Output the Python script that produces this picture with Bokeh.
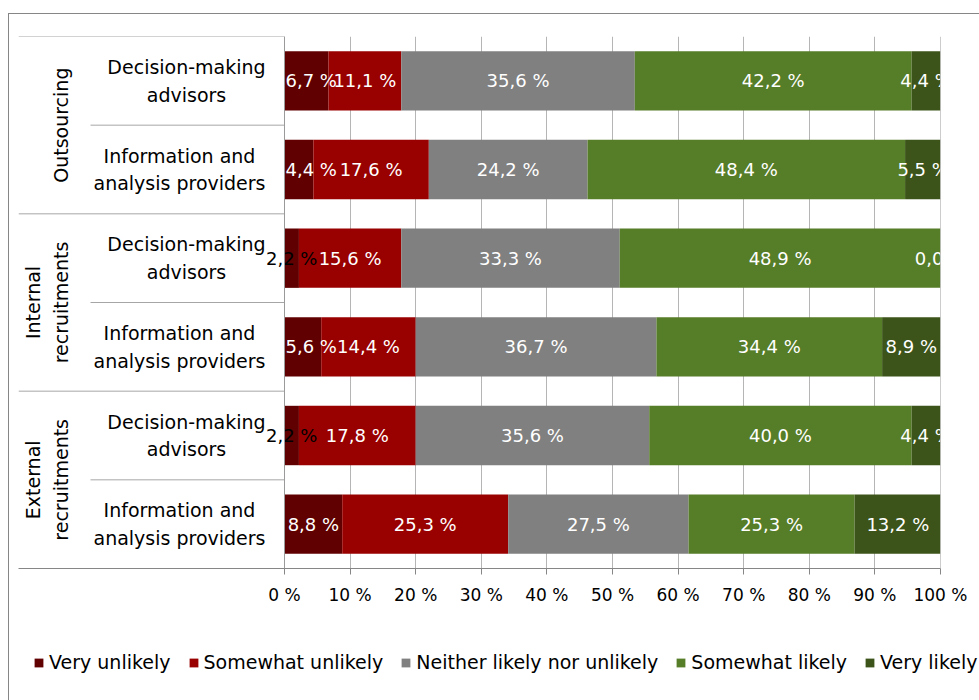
import math
from bokeh.plotting import figure
from bokeh.layouts import column
from bokeh.models import (FactorRange, Range1d, FixedTicker, PrintfTickFormatter,
                          Span, Legend, LegendItem, ColumnDataSource, InlineStyleSheet)
from bokeh.core.properties import value
from bokeh.embed import file_html
from bokeh.resources import INLINE

# ---------------- data ----------------
groups = ["Outsourcing", "Internal recruitments", "External recruitments"]
group_labels = ["Outsourcing", "Internal\nrecruitments", "External\nrecruitments"]
subcats = ["Decision-making advisors", "Information and analysis providers"]
subcat_labels = ["Decision-making\nadvisors", "Information and\nanalysis providers"]
series = ["Very unlikely", "Somewhat unlikely", "Neither likely nor unlikely",
          "Somewhat likely", "Very likely"]
colors = ["#600000", "#990000", "#808080", "#567D27", "#3C5419"]

# rows, top to bottom: Outsourcing/DM, Outsourcing/Info, Internal/DM, Internal/Info, External/DM, External/Info
very_unlikely = [6.7, 4.4, 2.2, 5.6, 2.2, 8.8]
somewhat_unlikely = [11.1, 17.6, 15.6, 14.4, 17.8, 25.3]
neither = [35.6, 24.2, 33.3, 36.7, 35.6, 27.5]
somewhat_likely = [42.2, 48.4, 48.9, 34.4, 40.0, 25.3]
very_likely = [4.4, 5.5, 0.0, 8.9, 4.4, 13.2]

x_ticks = [0, 10, 20, 30, 40, 50, 60, 70, 80, 90, 100]

# ---------------- layout constants ----------------
W, H = 979, 700
MAIN_H = 636
FRAME_L, FRAME_R, FRAME_T, FRAME_B = 18, 940, 36, 568
ZERO_PX = 284
PX_PER_UNIT = (FRAME_R - ZERO_PX) / 100.0
x_start = (FRAME_L - ZERO_PX) / PX_PER_UNIT
FONT = "DejaVu Sans"


def px_to_x(px):
    return (px - ZERO_PX) / PX_PER_UNIT


rows = [(g, s) for g in groups for s in subcats]
factors = rows[::-1]
cols = [very_unlikely, somewhat_unlikely, neither, somewhat_likely, very_likely]
src = ColumnDataSource(dict(row=rows, **{s: c for s, c in zip(series, cols)}))

p = figure(width=W, height=MAIN_H, output_backend="svg", toolbar_location=None,
           x_range=Range1d(x_start, 100),
           y_range=FactorRange(*factors, group_padding=0, subgroup_padding=0,
                               factor_padding=0, range_padding=0),
           y_axis_location=None,
           min_border_left=FRAME_L, min_border_right=W - FRAME_R,
           min_border_top=FRAME_T, min_border_bottom=MAIN_H - FRAME_B)
p.outline_line_color = None
p.background_fill_color = "white"
p.border_fill_color = "white"

# grid
p.xgrid.ticker = FixedTicker(ticks=x_ticks)
p.xgrid.grid_line_color = "#B5B5B5"
p.ygrid.grid_line_color = None

# x axis
ax = p.xaxis[0]
ax.ticker = FixedTicker(ticks=x_ticks)
ax.formatter = PrintfTickFormatter(format="%d %%")
ax.axis_line_color = "#868686"
ax.major_tick_line_color = "#868686"
ax.major_tick_out = 6
ax.major_tick_in = 0
ax.minor_tick_line_color = None
ax.major_label_text_font = FONT
ax.major_label_text_font_size = "17px"
ax.major_label_text_color = "#000000"
ax.major_label_standoff = 10

# stacked bars
bars = p.hbar_stack(series, y="row", height=0.67, color=colors, line_color=None, source=src)

# value labels
HALF_LABEL_PX = 27
cx, cy, ct, cc = [], [], [], []   # centred labels
lx, ly, lt = [], [], []           # labels kept inside the plot area on the left
for i, r in enumerate(rows):
    cum = 0.0
    for k, c in enumerate(cols):
        v = c[i]
        txt = ("%.1f" % v).replace(".", ",") + " %"
        dark = 0 < v < 3
        centre = cum + v / 2.0
        if k == 0 and not dark and centre * PX_PER_UNIT < HALF_LABEL_PX:
            lx.append(cum)
            ly.append(r)
            lt.append(txt)
        else:
            cx.append(centre)
            cy.append(r)
            ct.append(txt)
            cc.append("#000000" if dark else "#FFFFFF")
        cum += v
p.text(x=cx, y=cy, text=ct, text_color=cc, text_align="center", text_baseline="middle",
       text_font=value(FONT), text_font_size="18px")
p.text(x=lx, y=ly, text=lt, text_color="#FFFFFF", text_align="left", text_baseline="middle",
       x_offset=1, text_font=value(FONT), text_font_size="18px")

# boundary lines at 0 and 100
p.add_layout(Span(location=0, dimension="height", line_color="#9A9A9A", line_width=1))
p.add_layout(Span(location=100, dimension="height", line_color="#9A9A9A", line_width=1))

# category table lines
seg_x0, seg_y = [], []
for g in groups:
    seg_x0.append(x_start)
    seg_y.append((g, subcats[0], 0.5))
    seg_x0.append(px_to_x(90))
    seg_y.append((g, subcats[1], 0.5))
p.segment(x0=seg_x0, y0=seg_y, x1=[0] * len(seg_x0), y1=seg_y,
          line_color="#A6A6A6", line_width=1)

# sub-category labels
sub_center_px = [186, 179]
p.text(x=[px_to_x(sub_center_px[subcats.index(s)]) for (g, s) in rows], y=rows,
       text=[subcat_labels[subcats.index(s)] for (g, s) in rows],
       text_align="center", text_baseline="middle", text_line_height=1.25,
       text_color="#000000", text_font=value(FONT), text_font_size="19px")

# group labels (rotated)
p.text(x=[px_to_x(71)] * len(groups), y=groups, text=group_labels, angle=math.pi / 2,
       text_align="center", text_baseline="bottom", text_line_height=1.25,
       text_color="#000000", text_font=value(FONT), text_font_size="19px")

# ---------------- legend strip ----------------
LEG_H = H - MAIN_H
q = figure(width=W, height=LEG_H, output_backend="svg", toolbar_location=None,
           x_range=Range1d(0, 100),
           y_range=FactorRange(*factors, group_padding=0, subgroup_padding=0,
                               factor_padding=0, range_padding=0),
           x_axis_location=None, y_axis_location=None,
           min_border_left=FRAME_L, min_border_right=0, min_border_top=0, min_border_bottom=0)
q.outline_line_color = None
q.grid.grid_line_color = None
q.background_fill_color = "white"
q.border_fill_color = "white"
leg_bars = q.hbar_stack(series, y="row", height=0.67, color=colors, line_color=None, source=src)
for r in leg_bars:
    r.visible = False
legend = Legend(items=[LegendItem(label=s, renderers=[r]) for s, r in zip(series, leg_bars)],
                orientation="horizontal", location="top_left",
                glyph_width=11, glyph_height=11, label_standoff=5, spacing=17,
                padding=0, margin=15, border_line_color=None, background_fill_alpha=0,
                inactive_fill_alpha=0,
                label_text_font=FONT, label_text_font_size="19px",
                label_text_color="#000000")
q.add_layout(legend, "center")

layout = column(p, column(q, spacing=0), spacing=0)
# outer chart border (left and top edges visible inside the window)
layout.stylesheets = [InlineStyleSheet(css=(
    ":host::after { content: ''; position: absolute; left: 8px; top: 13px; "
    "right: 0; bottom: 0; border-left: 1px solid #868686; border-top: 1px solid #868686; "
    "pointer-events: none; z-index: 100; }"))]

open("out.html", "w").write(file_html(layout, INLINE))
